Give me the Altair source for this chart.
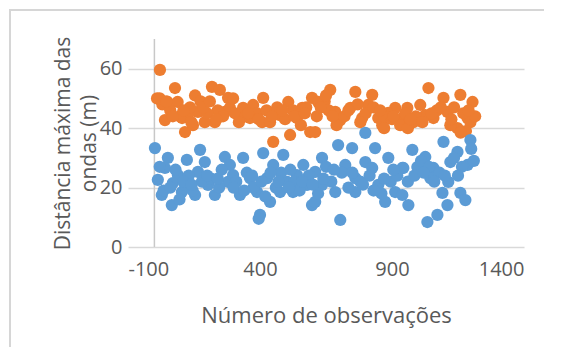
import altair as alt
import pandas as pd

# Series 1 (orange): observation number, max wave distance (m)
orange_x = [21, 10, 78, 40, 50, 88, 116, 105, 154, 165, 127, 218, 248, 279, 229, 191, 267, 146, 286,
            298, 336, 374, 412, 408, 362, 450, 514, 507, 476, 438, 540, 560, 597, 590, 324,
            666, 620, 761, 825, 685, 704, 742, 787, 848, 863, 810, 912, 939, 886, 609,
            1038, 958, 1007, 1057, 1095, 1159, 1205, 1148, 1186, 931, 1110, 981, 1026, 1121, 1197,
            30, 60, 95, 135, 175, 240, 260, 305, 345, 390, 425, 465, 495, 525, 575, 615, 645, 660,
            720, 770, 800, 830, 870, 900, 950, 990, 1015, 1070, 1135, 1170, 1215, 1180, 1160, 870,
            960, 690, 555, 200, 20, 45,
            70, 110, 185, 210, 235, 320, 355, 395, 445, 485, 530, 570, 630, 675, 735, 780, 855, 905,
            970, 1050, 1085, 1125, 1190, 140, 650]
orange_y = [59.6, 50, 53.5, 42.7, 48.8, 48.8, 38.7, 43.4, 51, 45.5, 44.4, 53.9, 52.9, 50.2, 42, 42, 45.5, 41, 46.8,
            50, 46.8, 47.8, 50.2, 42, 43.4, 35.4, 37.7, 48.8, 44.4, 42, 43.4, 46.8, 50.2, 38.7, 43.4,
            52.9, 48.8, 52.2, 51.2, 45.5, 42.7, 46.8, 43.4, 43.4, 41, 47.8, 46.8, 43.4, 45.1, 38.7,
            53.5, 46.8, 47.8, 43.4, 50.2, 51.2, 48.8, 40, 43.4, 41, 45.5, 42, 44.4, 41, 42,
            48, 46, 44, 47, 49, 46, 44, 45, 44, 45, 46, 47, 43, 46, 47, 44, 49, 46,
            44, 48, 45, 47, 44, 43, 45, 44, 42, 46, 47, 45, 44, 39, 38.5, 40,
            40, 41, 41, 45, 50, 49,
            44, 46, 47, 49, 43, 42, 45, 43, 44, 46, 44, 45, 47, 44, 46, 42, 46, 44,
            43, 45, 47, 43, 46, 42, 51]

# Series 2 (blue)
blue_x = [2, 51, 123, 173, 13, 28, 66, 89, 104, 154, 191, 165, 229, 267, 203, 40, 116, 279, 70,
          336, 412, 488, 450, 298, 362, 324, 389, 438, 503, 540, 525, 578, 597, 400, 427, 476, 286, 564,
          799, 696, 749, 836, 635, 723, 799, 886, 939, 761, 635, 685, 761, 848, 874, 704, 609, 825, 912, 609,
          1095, 1197, 977, 1026, 1148, 1121, 1186, 943, 996, 1057, 1045, 1113, 1091, 1159, 1178, 1110, 1072,
          1034, 962, 939,
          20, 35, 80, 95, 130, 145, 180, 215, 245, 255, 310, 350, 375, 405, 420, 460, 480, 515, 530, 550,
          585, 620, 650, 670, 710, 735, 780, 815, 860, 895, 920, 960, 1010, 1040, 1080, 1100, 1135, 1165,
          1200, 395,
          60, 110, 140, 200, 240, 300, 340, 370, 440, 470, 510, 560, 600, 640, 680, 750, 790, 830, 870,
          905, 985, 1020, 1060, 1150, 1210]
blue_y = [33.3, 30, 29.3, 32.7, 22.6, 17.5, 14.1, 24.2, 18.5, 17.5, 28.6, 25.3, 17.5, 30.3, 20.9, 26.6, 20.9, 21.9, 21.5,
          30, 31.6, 31, 27.6, 24.2, 23.2, 17.5, 18.5, 15.2, 21.9, 24.2, 18.5, 20.9, 14.1, 10.8, 23.2, 18.5, 27.6, 27.6,
          38.4, 34.3, 33.3, 33.3, 30, 27.6, 28.6, 30, 26.6, 23.2, 20.9, 18.5, 18.5, 20.9, 15.2, 9.1, 15.2, 26.6, 18.5, 25.3,
          35.4, 36, 32.7, 30.3, 32, 28.6, 27.6, 26.6, 26.9, 26.6, 23.2, 21.9, 18.2, 18.2, 15.8, 14.1, 10.8,
          8.4, 14.1, 17.5,
          27, 19, 26, 16, 24, 19, 22, 23, 20, 26, 22, 25, 20, 22, 17, 20, 25, 26, 22, 19,
          24, 18, 27, 22, 25, 20, 22, 24, 18, 22, 24, 22, 29, 27, 25, 24, 30, 27,
          33, 9.5,
          20, 22, 21, 24, 23, 20, 19, 24, 25, 22, 20, 22, 21, 23, 26, 25, 21, 19, 23,
          26, 24, 25, 22, 24, 29]

x_ticks = [-100, 400, 900, 1400]
y_ticks = [0, 20, 40, 60]

df = pd.concat([
    pd.DataFrame({"obs": orange_x, "dist": orange_y, "serie": "A"}),
    pd.DataFrame({"obs": blue_x, "dist": blue_y, "serie": "B"}),
], ignore_index=True)

FONT = "Open Sans"
GREY = "#595959"

xscale = alt.Scale(domain=[-100, 1400], nice=False, zero=False)
yscale = alt.Scale(domain=[0, 70], nice=False)

points = alt.Chart(df).mark_circle(size=150, opacity=1).encode(
    x=alt.X("obs:Q", scale=xscale,
            axis=alt.Axis(values=x_ticks, title="Número de observações", grid=False,
                          labelExpr="'' + datum.value",
                          domain=False, ticks=False, labelPadding=12, titlePadding=26,
                          labelFontSize=20, titleFontSize=22, labelColor=GREY, titleColor=GREY,
                          titleFontWeight="normal", labelFont=FONT, titleFont=FONT)),
    y=alt.Y("dist:Q", scale=yscale,
            axis=alt.Axis(values=y_ticks, title=["Distância máxima das", "ondas (m)"],
                          labelExpr="'' + datum.value",
                          grid=True, gridColor="#d9d9d9", gridWidth=1.5,
                          domain=False, ticks=False, labelPadding=6, titlePadding=0,
                          labelFontSize=20, titleFontSize=21, labelColor=GREY, titleColor=GREY,
                          titleFontWeight="normal", labelFont=FONT, titleFont=FONT,
                          titleLineHeight=26)),
    color=alt.Color("serie:N", scale=alt.Scale(domain=["A", "B"], range=["#ED7D31", "#5B9BD5"]),
                    legend=None),
    order=alt.Order("serie:N"),
)

axis_df = pd.DataFrame({"obs": [0], "lo": [0], "hi": [70]})
yaxis_line = alt.Chart(axis_df).mark_rule(color="#c8c8c8", strokeWidth=1.5).encode(
    x="obs:Q", y="lo:Q", y2="hi:Q"
)

frame = alt.Chart(axis_df).mark_rect(fill="transparent", stroke="#d6d6d6", strokeWidth=2).encode(
    x=alt.value(-118), x2=alt.value(430), y=alt.value(-29), y2=alt.value(316)
)

chart = alt.layer(frame, yaxis_line, points).properties(
    width=396, height=208,
    autosize=alt.AutoSizeParams(type="none"),
    padding={"left": 120, "top": 31, "right": 20, "bottom": 100},
    background="white",
).configure_view(stroke=None)

chart.save("out.html", embed_options={"renderer": "svg", "actions": False})
